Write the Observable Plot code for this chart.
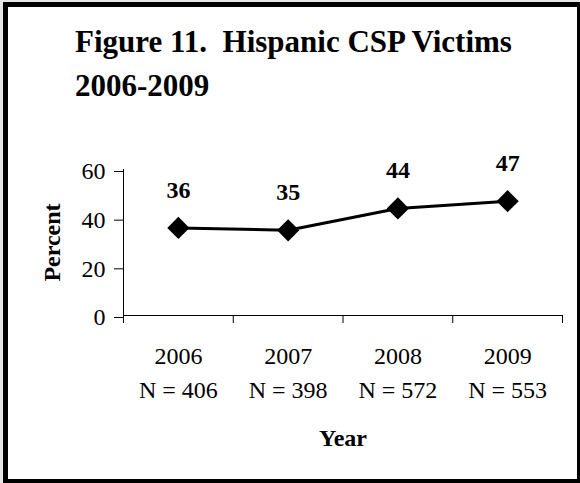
<!DOCTYPE html>
<html><head><meta charset="utf-8">
<script src="https://cdn.jsdelivr.net/npm/d3@7"></script>
<script src="https://cdn.jsdelivr.net/npm/@observablehq/plot@0.6"></script>
<style>
html,body{margin:0;padding:0;background:#fff;}
#wrap{position:relative;width:580px;height:483px;overflow:hidden;font-family:"Liberation Serif","Times New Roman",serif;background:#e6e6e6;}
#box{position:absolute;left:3px;top:2px;width:569px;height:472px;border-style:solid;border-color:#000;border-width:5px 3px 4px 5px;background:#fff;}
#title{position:absolute;left:75px;top:20px;font-size:31px;font-weight:bold;line-height:44px;white-space:pre;color:#000;}
#chart{position:absolute;left:0;top:120px;}
</style>
</head><body>
<div id="wrap">
  <div id="box"></div>
  <div id="title">Figure 11.  Hispanic CSP Victims
2006-2009</div>
  <div id="chart"></div>
</div>
<script>
const years = ["2006", "2007", "2008", "2009"];
const nValues = [406, 398, 572, 553];
const percents = [36, 35, 44, 47];
const yTicks = [0, 20, 40, 60];
const yLabel = "Percent";
const xLabel = "Year";

const rows = years.map((yr, i) => ({year: yr, n: nValues[i], pct: percents[i], idx: i + 0.5}));
const boundaries = d3.range(years.length + 1);

const chart = Plot.plot({
  width: 580,
  height: 363,
  marginLeft: 123,
  marginRight: 18,
  marginTop: 49,
  marginBottom: 168,
  style: {fontFamily: "'Liberation Serif','Times New Roman',serif", fontSize: "24px", color: "#000", background: "transparent", overflow: "visible"},
  x: {type: "linear", domain: [0, years.length], axis: null},
  y: {domain: [0, 60], axis: null},
  marks: [
    Plot.axisY({ticks: yTicks, tickSize: 9, tickPadding: 9, fontSize: 24, label: null, dy: 2, stroke: "#000"}),
    Plot.axisX({ticks: boundaries, tickSize: 8, tickFormat: () => "", label: null, stroke: "#000"}),
    Plot.ruleX([0], {stroke: "#000", strokeWidth: 1}),
    Plot.ruleY([0], {stroke: "#000", strokeWidth: 1}),
    Plot.line(rows, {x: "idx", y: "pct", stroke: "#000", strokeWidth: 3}),
    Plot.dot(rows, {x: "idx", y: "pct", symbol: "diamond2", r: 10, fill: "#000", stroke: "none"}),
    Plot.text(rows, {x: "idx", y: "pct", text: d => String(d.pct), lineAnchor: "bottom", dy: -30, fontWeight: "bold", fontSize: 24, fill: "#000"}),
    Plot.text(rows, {x: "idx", text: d => `${d.year}\nN = ${d.n}`, frameAnchor: "bottom", textAnchor: "middle", lineAnchor: "top", dy: 24, lineHeight: 1.42, fontSize: 24, fill: "#000"}),
    Plot.text([xLabel], {text: d => d, frameAnchor: "bottom", textAnchor: "middle", lineAnchor: "bottom", dy: 130, fontWeight: "bold", fontSize: 24, fill: "#000"}),
    Plot.text([yLabel], {text: d => d, frameAnchor: "left", textAnchor: "middle", rotate: -90, dx: -71, fontWeight: "bold", fontSize: 24, fill: "#000"})
  ]
});
document.getElementById("chart").appendChild(chart);
</script>
</body></html>
